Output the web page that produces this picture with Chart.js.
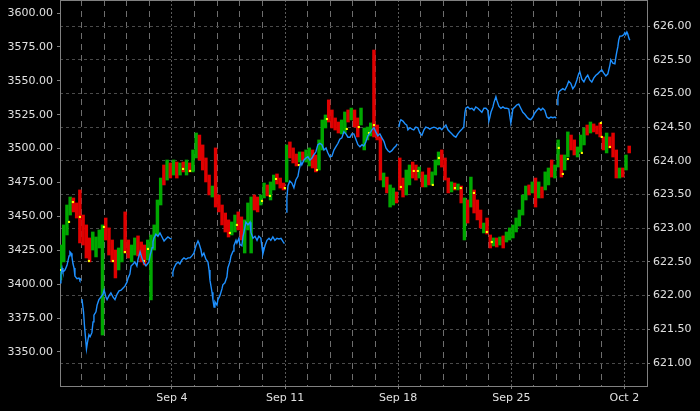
<!DOCTYPE html>
<html>
<head>
<meta charset="utf-8">
<script src="https://cdn.jsdelivr.net/npm/chart.js@4.4.0/dist/chart.umd.min.js"></script>
<style>
  html, body { margin: 0; padding: 0; background: #000; }
  #wrap { width: 700px; height: 411px; }
</style>
</head>
<body>
<div id="wrap"><canvas id="chart" width="700" height="411"></canvas></div>
<script>
/* sesiones (dias habiles contados desde Sep 4), 7 barras por sesion */
const sessionDays = [-5, -4, -3, -2, -1, 0, 1, 2, 3, 4, 5, 6, 7, 8, 9, 10, 11, 12, 13, 14, 15, 16, 17, 18, 19, 20];
const barsPerSession = 7;

/* maximos de cada barra */
const barHigh = [
  3428.9, 3443.7, 3458.4, 3464.3, 3463.6, 3459.9, 3469.5,
  3451.0, 3443.7, 3434.1, 3438.5, 3434.8, 3440.0, 3443.7,
  3448.8, 3441.5, 3432.6, 3425.2, 3426.7, 3432.6, 3453.3,
  3432.6, 3428.9, 3434.1, 3435.6, 3431.1, 3428.9, 3432.6,
  3436.3, 3443.7, 3462.1, 3478.3, 3487.9, 3491.6, 3489.4,
  3491.6, 3490.1, 3489.4, 3490.1, 3491.6, 3489.4, 3499.0,
  3511.5, 3510.0, 3502.7, 3493.1, 3480.5, 3472.4, 3500.5,
  3465.8, 3458.4, 3452.5, 3447.4, 3445.9, 3451.0, 3453.3,
  3449.6, 3447.4, 3459.9, 3464.3, 3465.8, 3464.3, 3465.8,
  3474.6, 3473.2, 3475.4, 3480.5, 3481.3, 3478.3, 3474.6,
  3502.7, 3504.9, 3500.5, 3496.0, 3497.5, 3497.5, 3499.0,
  3500.5, 3499.0, 3495.3, 3506.4, 3521.1, 3524.8, 3535.9,
  3528.5, 3522.6, 3519.6, 3521.1, 3527.0, 3528.5, 3529.9,
  3528.5, 3522.6, 3529.9, 3515.2, 3515.9, 3518.9, 3572.7,
  3517.4, 3508.6, 3482.0, 3479.0, 3473.2, 3470.9, 3468.0,
  3493.1, 3478.3, 3484.2, 3487.9, 3490.1, 3487.9, 3486.4,
  3482.8, 3480.5, 3485.7, 3482.8, 3491.6, 3497.5, 3499.0,
  3493.1, 3478.3, 3475.4, 3474.6, 3473.9, 3472.4, 3463.6,
  3462.1, 3479.0, 3469.5, 3462.1, 3454.7, 3445.1, 3448.8,
  3436.3, 3434.1, 3434.1, 3434.8, 3435.6, 3438.5, 3441.5,
  3443.7, 3448.8, 3454.7, 3465.8, 3472.4, 3473.2, 3475.4,
  3478.3, 3475.4, 3471.7, 3482.8, 3485.7, 3491.6, 3487.9,
  3506.4, 3495.3, 3495.3, 3512.3, 3510.0, 3506.4, 3501.2,
  3510.0, 3515.2, 3517.4, 3519.6, 3518.2, 3516.7, 3518.9,
  3508.6, 3511.5, 3508.6, 3511.5, 3499.0, 3485.7, 3485.7,
  3495.3, 3501.9
];

/* minimos de cada barra */
const barLow = [
  3403.1, 3416.4, 3436.3, 3451.0, 3453.3, 3448.8, 3430.4,
  3428.9, 3419.3, 3416.4, 3425.2, 3420.1, 3426.7, 3362.5,
  3432.6, 3421.5, 3416.4, 3404.6, 3410.5, 3416.4, 3423.0,
  3419.3, 3416.4, 3421.5, 3420.8, 3416.4, 3414.2, 3417.9,
  3388.4, 3425.2, 3436.3, 3458.4, 3473.2, 3476.8, 3478.3,
  3480.5, 3478.3, 3480.5, 3482.8, 3480.5, 3482.8, 3482.8,
  3493.1, 3491.6, 3484.2, 3475.4, 3465.8, 3464.3, 3456.9,
  3453.3, 3443.7, 3438.5, 3434.8, 3436.3, 3438.5, 3440.0,
  3432.6, 3423.0, 3440.0, 3423.0, 3454.7, 3453.3, 3458.4,
  3463.6, 3465.1, 3462.1, 3469.5, 3473.9, 3470.9, 3469.5,
  3475.4, 3493.1, 3489.4, 3487.2, 3490.1, 3491.6, 3490.1,
  3487.2, 3485.7, 3482.8, 3484.2, 3499.0, 3515.2, 3519.6,
  3515.2, 3513.7, 3511.5, 3510.8, 3511.5, 3519.6, 3521.1,
  3515.9, 3508.6, 3517.4, 3499.0, 3506.4, 3509.3, 3508.6,
  3506.4, 3476.8, 3471.7, 3467.3, 3456.9, 3458.4, 3459.9,
  3469.5, 3464.3, 3465.8, 3473.2, 3478.3, 3476.8, 3478.3,
  3471.7, 3471.7, 3473.2, 3473.2, 3480.5, 3487.9, 3486.4,
  3476.8, 3467.3, 3468.0, 3469.5, 3469.5, 3459.9, 3432.6,
  3445.1, 3456.9, 3452.5, 3447.4, 3441.5, 3437.8, 3437.0,
  3426.7, 3428.2, 3427.4, 3428.9, 3426.7, 3431.1, 3432.6,
  3434.1, 3438.5, 3442.9, 3451.0, 3462.1, 3465.8, 3467.3,
  3456.9, 3463.6, 3463.6, 3469.5, 3473.2, 3479.0, 3478.3,
  3486.4, 3479.0, 3484.2, 3493.8, 3499.0, 3495.3, 3493.8,
  3497.5, 3502.7, 3510.0, 3511.5, 3512.3, 3510.8, 3508.6,
  3499.0, 3496.8, 3500.5, 3493.8, 3478.3, 3478.3, 3479.0,
  3484.2, 3496.8
];

/* 1 = sube (verde), -1 = baja (rojo) */
const barDir = [
  1, 1, 1, 1, -1, -1, -1,
  -1, -1, -1, 1, 1, 1, 1,
  -1, -1, -1, -1, 1, 1, -1,
  -1, 1, 1, -1, -1, -1, 1,
  1, 1, 1, 1, -1, 1, -1,
  1, -1, 1, -1, 1, -1, 1,
  1, -1, -1, -1, -1, 1, -1,
  -1, -1, -1, -1, 1, 1, -1,
  -1, 1, 1, 1, -1, -1, 1,
  1, -1, 1, 1, -1, -1, -1,
  1, -1, -1, -1, 1, -1, 1,
  1, -1, -1, 1, 1, 1, -1,
  -1, -1, -1, 1, 1, -1, 1,
  -1, -1, 1, 1, 1, 1, -1,
  -1, -1, 1, -1, 1, 1, -1,
  -1, -1, 1, 1, -1, -1, 1,
  -1, 1, -1, 1, 1, 1, -1,
  -1, -1, 1, -1, 1, -1, 1,
  -1, 1, -1, -1, -1, 1, -1,
  -1, 1, -1, 1, -1, 1, 1,
  1, 1, 1, 1, 1, -1, 1,
  -1, 1, -1, 1, 1, -1, 1,
  1, -1, 1, 1, -1, -1, 1,
  1, 1, -1, 1, -1, -1, -1,
  -1, 1, -1, -1, -1, 1, -1,
  1, -1
];

/* barras sin cambio (puntos amarillos) */
const dojiX = [-4.91, -4.55, -4.38, -4.07, -3.67, -3.01, -2.61, -2.08, -1.24, -1.06, 0.49, 0.80, 2.56, 2.87,
  3.98, 4.33, 4.60, 4.99, 5.61, 6.41, 6.85, 7.73, 8.26, 8.71, 8.93, 10.12, 10.69, 10.87, 11.53, 11.80,
  12.51, 12.77, 13.35, 13.92, 14.14, 17.10, 17.28, 17.50, 18.12, 18.96, 19.00, 19.36];
const dojiY = [3410.5, 3445.9, 3460.6, 3449.6, 3417.1, 3442.2, 3417.1, 3423.7, 3417.1, 3426.0, 3485.0, 3483.5, 3437.8, 3443.7,
  3461.4, 3465.1, 3477.6, 3470.9, 3487.9, 3484.2, 3521.8, 3514.5, 3515.9, 3511.5, 3517.4, 3471.7, 3483.5, 3483.5, 3473.2, 3493.1,
  3470.9, 3470.9, 3467.3, 3438.5, 3431.1, 3500.5, 3481.3, 3492.3, 3496.8, 3518.9, 3508.6, 3501.2];

/* linea azul (eje derecho), null = corte */
const blueX = [
  -4.95, -4.91, -4.86, -4.82, -4.73, -4.64, -4.55, -4.51, -4.46, -4.42, -4.38, -4.33, -4.29, -4.20, -4.11, -4.07, -4.02,
  -4.00,
  -3.98, -3.91, -3.87, -3.82, -3.78, -3.74, -3.67, -3.62, -3.54, -3.49, -3.45, -3.36, -3.31, -3.23, -3.14, -3.05, -3.00, -2.92, -2.87,
  -2.78, -2.70, -2.61, -2.52, -2.43, -2.34, -2.25, -2.17, -2.08, -1.99, -1.94, -1.86, -1.81, -1.72, -1.64, -1.55, -1.50, -1.41, -1.33,
  -1.24, -1.15, -1.06, -1.02, -0.97, -0.88, -0.84, -0.80, -0.71, -0.62, -0.53, -0.44, -0.35, -0.27, -0.18, -0.09, -0.02,
  0.00,
  0.02, 0.04, 0.09, 0.18, 0.27, 0.35, 0.44, 0.53, 0.62, 0.71, 0.80, 0.88, 0.97, 1.06, 1.15, 1.19, 1.28, 1.33, 1.41, 1.50,
  1.59, 1.64, 1.68, 1.77, 1.81, 1.86, 1.90, 1.99, 2.03, 2.12, 2.21, 2.25, 2.34, 2.43, 2.47, 2.56, 2.61, 2.70, 2.74, 2.83,
  2.87, 2.96, 3.00, 3.09, 3.14, 3.18, 3.27, 3.36, 3.45, 3.49, 3.58, 3.67, 3.76, 3.84, 3.93, 3.98, 4.02, 4.11, 4.20, 4.29,
  4.37, 4.46, 4.55, 4.64, 4.73, 4.82, 4.91, 4.97,
  5.01,
  5.05, 5.08, 5.13, 5.21, 5.30, 5.39, 5.48, 5.57, 5.61, 5.70, 5.74, 5.83, 5.92, 6.01, 6.10, 6.19, 6.27, 6.36, 6.45, 6.54,
  6.63, 6.72, 6.81, 6.89, 6.98, 7.07, 7.16, 7.25, 7.34, 7.42, 7.51, 7.60, 7.69, 7.78, 7.87, 7.95, 8.04, 8.13, 8.22, 8.31,
  8.40, 8.48, 8.57, 8.66, 8.75, 8.84, 8.93, 9.01, 9.10, 9.19, 9.28, 9.37, 9.46, 9.55, 9.63, 9.72, 9.81, 9.90, 9.96,
  10.00,
  10.03, 10.08, 10.12, 10.21, 10.30, 10.38, 10.43, 10.52, 10.61, 10.69, 10.78, 10.87, 10.96, 11.05, 11.14, 11.22, 11.31, 11.40,
  11.49, 11.58, 11.67, 11.75, 11.84, 11.93, 12.02, 12.11, 12.20, 12.28, 12.37, 12.46, 12.55, 12.64, 12.73, 12.82, 12.90,
  12.95, 12.99, 13.08, 13.17, 13.26, 13.35, 13.43, 13.52, 13.61, 13.70, 13.79, 13.88, 13.96, 14.01, 14.05, 14.10, 14.19,
  14.23, 14.32, 14.36, 14.45, 14.54, 14.63, 14.72, 14.80, 14.89, 14.98, 15.02, 15.07, 15.16, 15.25, 15.33, 15.42, 15.51,
  15.60, 15.69, 15.78, 15.86, 15.95, 16.04, 16.13, 16.22, 16.31, 16.39, 16.48, 16.57, 16.66, 16.75, 16.84, 16.93, 16.99,
  17.00,
  17.04, 17.06, 17.10, 17.19, 17.28, 17.37, 17.46, 17.54, 17.63, 17.72, 17.81, 17.90, 17.98, 18.03, 18.12, 18.21, 18.29,
  18.38, 18.47, 18.56, 18.65, 18.74, 18.82, 18.91, 19.00, 19.09, 19.18, 19.27, 19.36, 19.40, 19.49, 19.58, 19.62, 19.66,
  19.71, 19.75, 19.80, 19.89, 19.97, 20.02, 20.06, 20.11, 20.15, 20.20, 20.24
];
const blueY = [
  622.19, 622.31, 622.41, 622.35, 622.38, 622.45, 622.59, 622.65, 622.63, 622.57, 622.48, 622.41, 622.29, 622.25, 622.26, 622.23, 622.25,
  null,
  621.95, 621.76, 621.56, 621.37, 621.21, 621.30, 621.42, 621.39, 621.45, 621.61, 621.71, 621.76, 621.86, 621.94, 621.98, 622.02, 622.08, 621.98, 621.94,
  622.00, 622.04, 621.98, 621.94, 622.02, 622.07, 622.08, 622.11, 622.14, 622.20, 622.26, 622.32, 622.44, 622.47, 622.50, 622.44, 622.54, 622.65, 622.56,
  622.48, 622.44, 622.48, 622.50, 622.59, 622.71, 622.80, 622.85, 622.91, 622.88, 622.93, 622.87, 622.81, 622.84, 622.87, 622.85, 622.84,
  null,
  622.29, 622.35, 622.41, 622.47, 622.50, 622.47, 622.53, 622.56, 622.54, 622.56, 622.56, 622.59, 622.63, 622.74, 622.81, 622.78, 622.68, 622.59, 622.63, 622.54,
  622.50, 622.38, 622.23, 622.05, 621.94, 621.83, 621.91, 621.86, 621.94, 622.00, 622.10, 622.16, 622.19, 622.28, 622.41, 622.50, 622.59, 622.66, 622.74, 622.82,
  622.78, 622.85, 622.76, 622.74, 622.88, 622.94, 623.09, 623.05, 623.09, 622.94, 622.85, 622.88, 622.82, 622.88, 622.85, 622.72, 622.62, 622.74, 622.82, 622.85,
  622.82, 622.87, 622.82, 622.85, 622.84, 622.85, 622.80, 622.77,
  null,
  623.24, 623.45, 623.63, 623.70, 623.67, 623.60, 623.72, 623.77, 623.85, 623.98, 623.94, 624.01, 624.04, 624.06, 624.01, 624.04, 624.09, 624.13, 624.24, 624.26,
  624.24, 624.16, 624.19, 624.12, 624.06, 624.07, 624.16, 624.21, 624.26, 624.32, 624.34, 624.43, 624.40, 624.35, 624.35, 624.40, 624.40, 624.32, 624.24, 624.21,
  624.24, 624.22, 624.28, 624.37, 624.41, 624.46, 624.49, 624.43, 624.37, 624.40, 624.34, 624.29, 624.19, 624.15, 624.13, 624.15, 624.19, 624.22, 624.25,
  null,
  624.50, 624.58, 624.61, 624.59, 624.55, 624.53, 624.46, 624.49, 624.47, 624.46, 624.50, 624.49, 624.41, 624.38, 624.46, 624.50, 624.49, 624.47,
  624.49, 624.50, 624.49, 624.47, 624.49, 624.46, 624.50, 624.53, 624.46, 624.43, 624.40, 624.37, 624.35, 624.40, 624.44, 624.47, 624.50,
  624.71, 624.78, 624.80, 624.77, 624.78, 624.75, 624.80, 624.78, 624.75, 624.72, 624.78, 624.78, 624.75, 624.59, 624.64, 624.72, 624.80,
  624.86, 624.95, 624.90, 624.81, 624.78, 624.80, 624.78, 624.78, 624.77, 624.56, 624.64, 624.77, 624.80, 624.83, 624.84, 624.78, 624.72,
  624.69, 624.65, 624.62, 624.61, 624.65, 624.71, 624.75, 624.78, 624.75, 624.78, 624.75, 624.65, 624.63, 624.65, 624.64, 624.65, 624.63,
  null,
  624.83, 624.93, 625.02, 625.05, 625.07, 625.05, 625.11, 625.18, 625.15, 625.07, 625.11, 625.20, 625.29, 625.32, 625.21, 625.17, 625.23,
  625.27, 625.20, 625.17, 625.23, 625.27, 625.29, 625.32, 625.35, 625.30, 625.26, 625.29, 625.42, 625.50, 625.45, 625.44, 625.53, 625.61,
  625.69, 625.79, 625.85, 625.85, 625.87, 625.90, 625.87, 625.91, 625.88, 625.82, 625.79
];

/* ejes */
const leftTicks = [3350, 3375, 3400, 3425, 3450, 3475, 3500, 3525, 3550, 3575, 3600];
const rightTicks = [621, 621.5, 622, 622.5, 623, 623.5, 624, 624.5, 625, 625.5, 626];
const dayLines = [-4, -3, -2, -1, 0, 1, 2, 3, 4, 5, 6, 7, 8, 9, 10, 11, 12, 13, 14, 15, 16, 17, 18, 19, 20];
const weekDays = [0, 5, 10, 15, 20];
const weekLabels = ['Sep 4', 'Sep 11', 'Sep 18', 'Sep 25', 'Oct 2'];

/* armar datos */
const barData = barHigh.map((h, i) => ({
  x: sessionDays[Math.floor(i / barsPerSession)] + ((i % barsPerSession) + 0.5) / barsPerSession,
  y: [barLow[i], h]
}));
const barColors = barDir.map(d => d > 0 ? '#00a800' : '#e00000');
const dojiData = dojiX.map((x, i) => ({ x: x, y: dojiY[i] }));
const blueData = blueX.map((x, i) => ({ x: x, y: blueY[i] }));

const tickFont = { family: 'DejaVu Sans', size: 11 };
const isWeek = c => c.tick && weekDays.indexOf(c.tick.value) >= 0;

/* linea de arriba del marco */
const topFrame = {
  id: 'topFrame',
  afterDraw(chart) {
    const { ctx, chartArea } = chart;
    ctx.save();
    ctx.strokeStyle = '#808080';
    ctx.lineWidth = 1;
    ctx.beginPath();
    ctx.moveTo(chartArea.left, chartArea.top + 0.5);
    ctx.lineTo(chartArea.right, chartArea.top + 0.5);
    ctx.stroke();
    ctx.restore();
  }
};

const ctx = document.getElementById('chart').getContext('2d');
new Chart(ctx, {
  type: 'bar',
  data: {
    datasets: [
      {
        type: 'line',
        data: blueData,
        xAxisID: 'x',
        yAxisID: 'yR',
        borderColor: '#1e90ff',
        borderWidth: 1.4,
        pointRadius: 0,
        tension: 0,
        spanGaps: false,
        order: 0
      },
      {
        type: 'scatter',
        data: dojiData,
        xAxisID: 'x',
        yAxisID: 'yL',
        pointStyle: 'rect',
        pointRadius: 1.5,
        borderWidth: 0,
        backgroundColor: '#ffff00',
        order: 1
      },
      {
        type: 'bar',
        data: barData,
        xAxisID: 'x',
        yAxisID: 'yL',
        backgroundColor: barColors,
        borderWidth: 0,
        barThickness: 2.8,
        order: 2
      }
    ]
  },
  options: {
    responsive: false,
    animation: false,
    devicePixelRatio: 1,
    layout: { padding: 0, autoPadding: false },
    plugins: { legend: { display: false }, tooltip: { enabled: false } },
    scales: {
      x: {
        type: 'linear',
        position: 'bottom',
        min: -4.95,
        max: 21,
        offset: false,
        afterBuildTicks: s => { s.ticks = dayLines.map(v => ({ value: v })); },
        afterFit: s => { s.height = 25; s.paddingLeft = 0; s.paddingRight = 0; },
        grid: {
          offset: false,
          color: c => isWeek(c) ? '#5a5a5a' : '#6e6e6e',
          tickColor: c => isWeek(c) ? '#808080' : 'rgba(0,0,0,0)',
          tickLength: 3
        },
        border: {
          color: '#808080',
          dash: c => isWeek(c) ? [2, 2] : [6, 5]
        },
        ticks: {
          autoSkip: false,
          maxRotation: 0,
          padding: 3,
          color: '#e0e0e0',
          font: tickFont,
          callback: v => {
            const k = weekDays.indexOf(v);
            return k >= 0 ? weekLabels[k] : '';
          }
        }
      },
      yL: {
        type: 'linear',
        position: 'left',
        min: 3324.9,
        max: 3609.6,
        afterBuildTicks: s => { s.ticks = leftTicks.map(v => ({ value: v })); },
        afterFit: s => { s.width = 60; s.paddingTop = 0; s.paddingBottom = 0; },
        grid: { drawOnChartArea: false, tickLength: 3, tickColor: '#808080' },
        border: { color: '#808080' },
        ticks: {
          padding: 4,
          color: '#e0e0e0',
          font: tickFont,
          callback: v => v.toFixed(2)
        }
      },
      yR: {
        type: 'linear',
        position: 'right',
        min: 620.659,
        max: 626.386,
        afterBuildTicks: s => { s.ticks = rightTicks.map(v => ({ value: v })); },
        afterFit: s => { s.width = 53; s.paddingTop = 0; s.paddingBottom = 0; },
        grid: { color: '#4a4a4a', tickLength: 3, tickColor: '#808080' },
        border: { color: '#808080', dash: [3, 3] },
        ticks: {
          padding: 3,
          color: '#e0e0e0',
          font: tickFont,
          callback: v => v.toFixed(2)
        }
      }
    }
  },
  plugins: [topFrame]
});
</script>
</body>
</html>
